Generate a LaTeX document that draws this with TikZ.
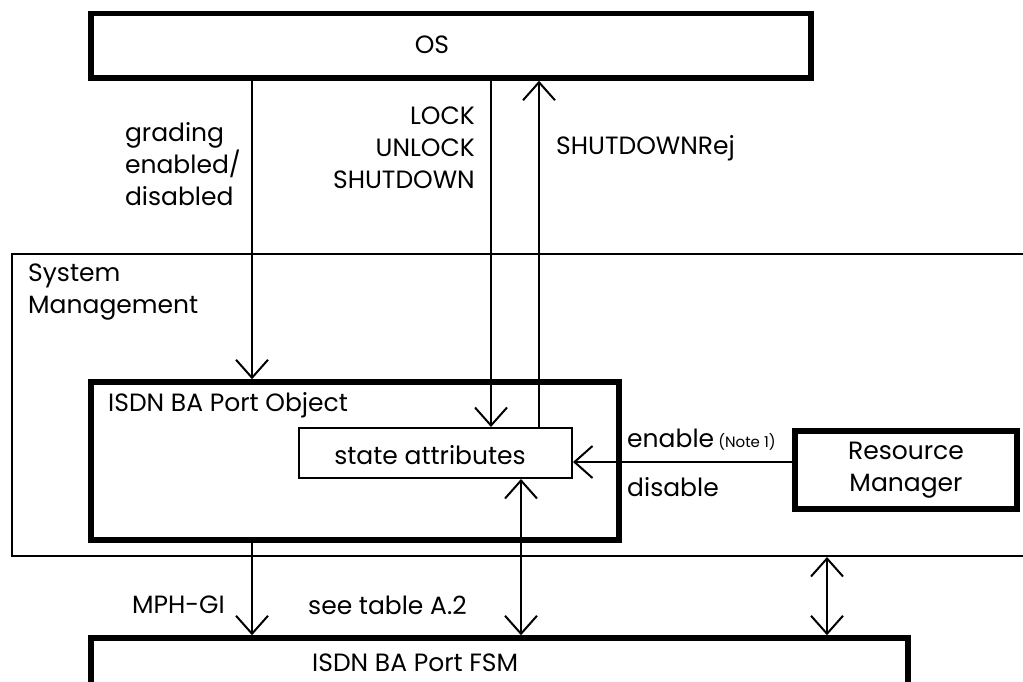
\documentclass[tikz,border=0pt]{standalone}
\usepackage{fontspec}
\setmainfont{Poppins}
\usetikzlibrary{arrows.meta,calc}
\newcommand{\txtsize}{\fontsize{25}{32}\selectfont}
\newcommand{\notesize}{\fontsize{15}{18}\selectfont}

\begin{document}
\begin{tikzpicture}[x=1pt,y=-1pt,
    thickbox/.style={draw,line width=5.5pt,inner sep=0pt},
    thinbox/.style={draw,line width=2pt,inner sep=0pt},
    lbl/.style={inner sep=0pt,font=\txtsize},
    sig/.style={line width=2pt,-{Straight Barb[length=18pt,width=32pt]}},
    dsig/.style={line width=2pt,{Straight Barb[length=18pt,width=32pt]}-{Straight Barb[length=18pt,width=32pt]}}]
    \clip (0,0) rectangle (1023,681);
    \fill[white] (0,0) rectangle (1023,681);
    % boxes
    \node[thickbox,minimum width=720pt,minimum height=64.5pt] (os) at (451,45.75) {};
    \node[thinbox,minimum width=1028pt,minimum height=302pt] (sm) at (526,405) {};
    \node[thickbox,minimum width=528pt,minimum height=158pt] (po) at (355,461) {};
    \node[thinbox,minimum width=273pt,minimum height=50pt] (sa) at (435.5,453) {};
    \node[thickbox,minimum width=222pt,minimum height=78pt,align=center,font=\txtsize] (rm) at (906,470) {Resource\\Manager};
    \node[thickbox,minimum width=817pt,minimum height=82pt] (fsm) at (499.5,679) {};
    % texts
    \node[lbl] (ostxt) at (432,45) {OS};
    \node[lbl] (satxt) at (430,455) {state attributes};
    \node[lbl,anchor=west] (potxt) at (108,405) {ISDN BA Port Object};
    \node[lbl,anchor=north west,align=left] (smtxt) at (28,264) {System\\Management};
    \node[lbl,anchor=west] (fsmtxt) at (312,663) {ISDN BA Port FSM};
    % x positions of the signals
    \coordinate (xgr) at (252,0);
    \coordinate (xlk) at (491,0);
    \coordinate (xrj) at (539,0);
    \coordinate (xtb) at (521,0);
    \coordinate (xrm) at (827,0);
    \coordinate (yen) at (0,462);
    % signals
    \draw[sig] (xgr |- os.south) -- (xgr |- po.north);
    \draw[sig] (xlk |- os.south) -- (xlk |- sa.north);
    \draw[sig] (xrj |- sa.north) -- (xrj |- os.south);
    \draw[sig] (yen -| rm.west) -- (yen -| sa.east);
    \draw[sig] (xgr |- po.south) -- (xgr |- fsm.north);
    \draw[dsig] (xtb |- sa.south) -- (xtb |- fsm.north);
    \draw[dsig] (xrm |- sm.south) -- (xrm |- fsm.north);
    % signal labels
    \node[lbl,anchor=north east,align=left] (grlbl) at (241,122) {grading\\enabled/\\disabled};
    \node[lbl,anchor=north east,align=right] (lklbl) at (475,107) {LOCK\\UNLOCK\\SHUTDOWN};
    \node[lbl,anchor=west] (rjlbl) at (556,148) {SHUTDOWNRej};
    \node[lbl,anchor=west] (enlbl) at (627,440) {enable\,{\notesize(Note 1)}};
    \node[lbl,anchor=west] (dislbl) at (627,487) {disable};
    \node[lbl,anchor=east] (mphlbl) at (225,605) {MPH-GI};
    \node[lbl,anchor=west] (tblbl) at (308,605) {see table A.2};
\end{tikzpicture}
\end{document}
